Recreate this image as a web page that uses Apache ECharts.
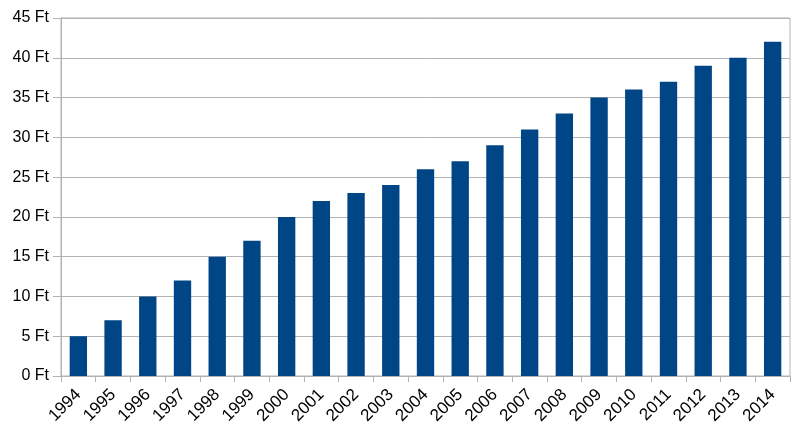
<!DOCTYPE html>
<html>
<head>
<meta charset="utf-8">
<script src="https://cdn.jsdelivr.net/npm/echarts@6/dist/echarts.min.js"></script>
<style>
  html, body { margin: 0; padding: 0; background: #fff; }
  #chart { width: 810px; height: 446px; }
</style>
</head>
<body>
<div id="chart"></div>
<script>
const years = ["1994", "1995", "1996", "1997", "1998", "1999", "2000", "2001", "2002", "2003",
  "2004", "2005", "2006", "2007", "2008", "2009", "2010", "2011", "2012", "2013", "2014"];
const values = [5, 7, 10, 12, 15, 17, 20, 22, 23, 24, 26, 27, 29, 31, 33, 35, 36, 37, 39, 40, 42];

const gray = "#b3b3b3";
const font = "'Liberation Sans', Arial, sans-serif";

const chart = echarts.init(document.getElementById("chart"), null, { renderer: "canvas" });

chart.setOption({
  animation: false,
  grid: {
    left: 61,
    right: 20,
    top: 18,
    bottom: 70,
    show: true,
    borderColor: gray,
    borderWidth: 1,
  },
  xAxis: {
    type: "category",
    data: years,
    axisLine: { lineStyle: { color: gray } },
    axisTick: { show: true, length: 6, lineStyle: { color: gray } },
    axisLabel: {
      rotate: 45,
      color: "#000",
      fontFamily: font,
      fontSize: 17,
      margin: 16,
    },
  },
  yAxis: {
    type: "value",
    min: 0,
    max: 45,
    interval: 5,
    axisLine: { show: true, lineStyle: { color: gray } },
    axisTick: { show: true, length: 8, lineStyle: { color: gray } },
    splitLine: { lineStyle: { color: gray } },
    axisLabel: {
      formatter: "{value} Ft",
      color: "#000",
      fontFamily: font,
      fontSize: 16,
      margin: 12,
    },
  },
  series: [
    {
      type: "bar",
      data: values,
      barWidth: "50%",
      itemStyle: { color: "#004586" },
    },
  ],
});
</script>
</body>
</html>
